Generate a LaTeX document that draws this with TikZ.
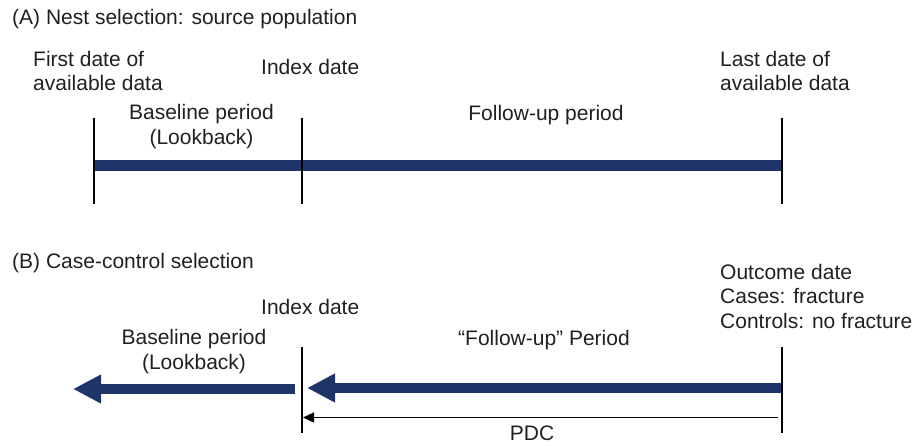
\documentclass[tikz,border=0pt]{standalone}
\usepackage{fontspec}
\setmainfont{Liberation Sans}
\usetikzlibrary{arrows.meta}
\definecolor{navy}{HTML}{1F3468}
\definecolor{ink}{HTML}{231F20}
\begin{document}
\begin{tikzpicture}[x=1pt,y=-1pt,
  lbl/.style={inner sep=0pt, font=\fontsize{21}{24.5}\selectfont, text=ink},
  tickline/.style={line width=2pt, black},
  barline/.style={line width=11pt, navy},
  fatarrow/.style={line width=10pt, navy, -{Triangle[length=28pt,width=27pt]}},
  pdcarrow/.style={line width=1.3pt, black, -{Triangle[length=11pt,width=10pt]}}]
\useasboundingbox (0,0) rectangle (918,445);
% ---------- (A) ----------
\node[lbl, anchor=base west] (titleA) at (12,24) {(A) Nest selection: source population};
\node[lbl, anchor=base west, align=left] (firstdate) at (33,90.5) {First date of\\available data};
\node[lbl, anchor=base west] (idxA) at (261,74) {Index date};
\node[lbl, anchor=base, align=center] (baseA) at (201.5,144) {Baseline period\\(Lookback)};
\node[lbl, anchor=base] (fuA) at (546,120) {Follow-up period};
\node[lbl, anchor=base west, align=left] (lastdate) at (720,90.5) {Last date of\\available data};
\coordinate (barL) at (94,165.5);
\coordinate (barR) at (782,165.5);
\draw[barline] (barL) -- (barR);
\coordinate (a1t) at (94,118);  \coordinate (a1b) at (94,204);
\coordinate (a2t) at (302,118); \coordinate (a2b) at (302,204);
\coordinate (a3t) at (782,118); \coordinate (a3b) at (782,204);
\draw[tickline] (a1t) -- (a1b);
\draw[tickline] (a2t) -- (a2b);
\draw[tickline] (a3t) -- (a3b);
% ---------- (B) ----------
\node[lbl, anchor=base west] (titleB) at (12,268) {(B) Case-control selection};
\node[lbl, anchor=base west] (idxB) at (261,314) {Index date};
\node[lbl, anchor=base, align=center] (baseB) at (194,369) {Baseline period\\(Lookback)};
\node[lbl, anchor=base] (fuB) at (544,345) {“Follow-up” Period};
\node[lbl, anchor=base west, align=left] (outcome) at (720,328) {Outcome date\\Cases: fracture\\Controls: no fracture};
\node[lbl, anchor=base] (pdc) at (532,440) {PDC};
\coordinate (blS) at (295,389);
\coordinate (blE) at (73,389);
\draw[fatarrow] (blS) -- (blE);
\coordinate (fuS) at (782,388);
\coordinate (fuE) at (307,388);
\draw[fatarrow] (fuS) -- (fuE);
\coordinate (pdS) at (778,417.5);
\coordinate (pdE) at (303,417.5);
\draw[pdcarrow] (pdS) -- (pdE);
\coordinate (b1t) at (302,347); \coordinate (b1b) at (302,433);
\coordinate (b2t) at (782,347); \coordinate (b2b) at (782,433);
\draw[tickline] (b1t) -- (b1b);
\draw[tickline] (b2t) -- (b2b);
\end{tikzpicture}
\end{document}
